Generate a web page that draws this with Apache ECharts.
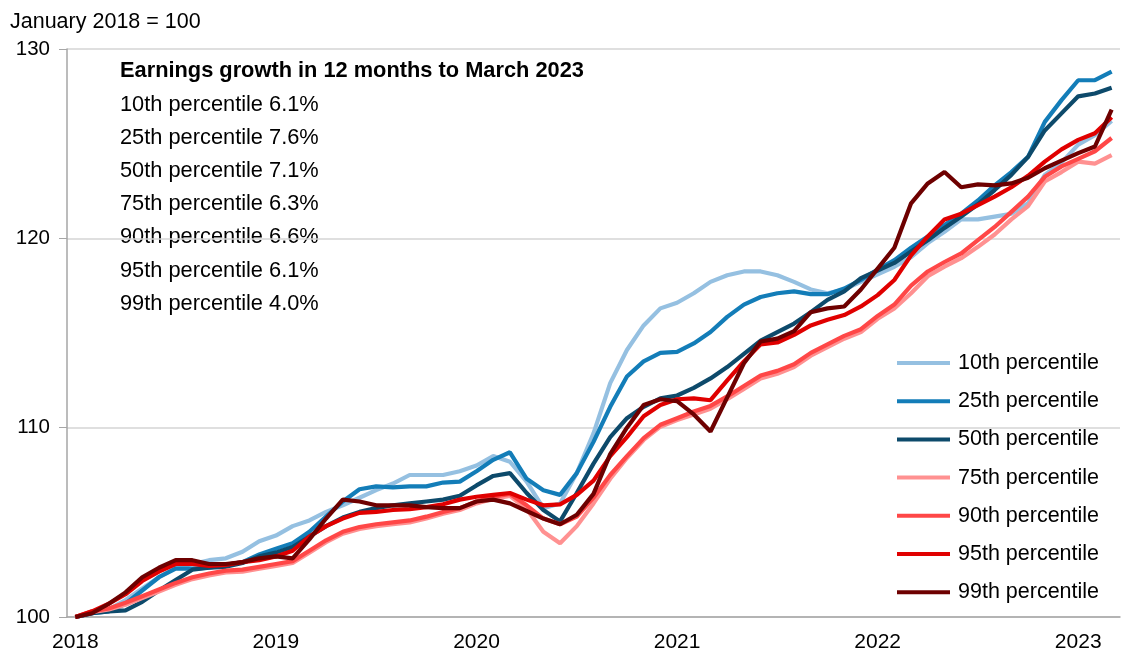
<!DOCTYPE html>
<html>
<head>
<meta charset="utf-8">
<script src="https://cdn.jsdelivr.net/npm/echarts@6/dist/echarts.min.js"></script>
<style>
  html, body { margin: 0; padding: 0; background: #fff; }
  #chart { width: 1126px; height: 657px; }
</style>
</head>
<body>
<div id="chart"></div>
<script>
// monthly, Jan 2018 to Mar 2023
const months = [
  '2018-01','2018-02','2018-03','2018-04','2018-05','2018-06','2018-07','2018-08','2018-09','2018-10','2018-11','2018-12',
  '2019-01','2019-02','2019-03','2019-04','2019-05','2019-06','2019-07','2019-08','2019-09','2019-10','2019-11','2019-12',
  '2020-01','2020-02','2020-03','2020-04','2020-05','2020-06','2020-07','2020-08','2020-09','2020-10','2020-11','2020-12',
  '2021-01','2021-02','2021-03','2021-04','2021-05','2021-06','2021-07','2021-08','2021-09','2021-10','2021-11','2021-12',
  '2022-01','2022-02','2022-03','2022-04','2022-05','2022-06','2022-07','2022-08','2022-09','2022-10','2022-11','2022-12',
  '2023-01','2023-02','2023-03'
]

const p10 = [100,100.2,100.4,100.9,101.5,102.1,102.6,102.8,103.0,103.1,
  103.45,104.0,104.3,104.8,105.1,105.55,105.9,106.3,106.7,107.05,
  107.5,107.5,107.5,107.7,108.0,108.5,108.2,107.15,105.75,106.0,
  107.6,109.7,112.35,114.1,115.4,116.3,116.6,117.1,117.7,118.05,
  118.25,118.25,118.05,117.7,117.3,117.1,117.3,117.7,118.1,118.5,
  119.0,119.75,120.35,121.0,121.0,121.15,121.3,121.85,123.35,124.0,
  124.95,125.45,126.2]
const p25 = [100,100.2,100.3,100.7,101.4,102.1,102.55,102.55,102.6,102.75,
  102.9,103.3,103.6,103.9,104.5,105.3,106.1,106.75,106.9,106.85,
  106.9,106.9,107.1,107.15,107.7,108.3,108.7,107.3,106.7,106.45,
  107.6,109.25,111.1,112.7,113.5,113.95,114.0,114.45,115.05,115.85,
  116.5,116.9,117.1,117.2,117.05,117.05,117.35,117.8,118.35,118.85,
  119.5,120.1,120.7,121.3,122.0,122.8,123.5,124.3,126.15,127.3,
  128.35,128.35,128.8]
const p50 = [100,100.2,100.3,100.35,100.8,101.4,101.95,102.5,102.6,102.65,
  102.85,103.2,103.4,103.7,104.25,104.8,105.25,105.55,105.75,105.9,
  106.0,106.1,106.2,106.4,106.95,107.45,107.6,106.55,105.65,105.05,
  106.55,108.1,109.5,110.5,111.1,111.55,111.7,112.1,112.6,113.2,
  113.9,114.6,115.05,115.5,116.1,116.75,117.2,117.9,118.3,118.7,
  119.3,119.9,120.55,121.15,121.8,122.55,123.35,124.3,125.7,126.6,
  127.5,127.65,127.95]
const p75 = [100,100.25,100.4,100.65,101.0,101.35,101.7,102.0,102.2,102.35,
  102.4,102.55,102.7,102.85,103.4,103.95,104.4,104.65,104.8,104.9,
  105.0,105.2,105.45,105.65,106.0,106.25,106.4,105.7,104.5,103.9,
  104.8,106.0,107.3,108.4,109.35,110.05,110.4,110.7,111.0,111.5,
  112.05,112.6,112.85,113.2,113.8,114.25,114.7,115.05,115.75,116.3,
  117.1,118.0,118.5,118.95,119.55,120.2,121.0,121.7,123.0,123.5,
  124.05,123.95,124.4]
const p90 = [100,100.3,100.45,100.75,101.1,101.45,101.8,102.1,102.3,102.45,
  102.5,102.65,102.8,102.95,103.5,104.05,104.5,104.75,104.9,105.0,
  105.1,105.3,105.55,105.75,106.1,106.35,106.5,105.9,105.2,104.9,
  105.3,106.3,107.5,108.5,109.45,110.15,110.5,110.85,111.15,111.65,
  112.2,112.75,113.0,113.35,113.95,114.4,114.85,115.2,115.9,116.5,
  117.5,118.25,118.75,119.2,119.9,120.6,121.4,122.2,123.25,123.8,
  124.2,124.6,125.3]
const p95 = [100,100.3,100.7,101.2,101.9,102.4,102.8,102.8,102.7,102.75,
  102.9,103.0,103.2,103.5,104.25,104.8,105.2,105.5,105.55,105.65,
  105.7,105.8,105.95,106.2,106.35,106.45,106.55,106.2,105.9,105.95,
  106.45,107.2,108.5,109.5,110.6,111.2,111.5,111.55,111.45,112.5,
  113.5,114.4,114.5,114.9,115.4,115.7,115.95,116.4,117.0,117.8,
  119.1,120.1,121.0,121.3,121.75,122.2,122.7,123.3,124.05,124.7,
  125.2,125.55,126.4]
const p99 = [100,100.2,100.7,101.3,102.1,102.6,103.0,103.0,102.8,102.8,
  102.9,103.1,103.2,103.1,104.1,105.2,106.2,106.1,105.9,105.9,
  105.9,105.8,105.75,105.75,106.1,106.2,106.0,105.6,105.2,104.9,
  105.4,106.5,108.6,110.0,111.2,111.5,111.4,110.7,109.8,111.6,
  113.4,114.55,114.7,115.1,116.1,116.3,116.4,117.3,118.4,119.5,
  121.85,122.9,123.5,122.7,122.85,122.8,122.9,123.2,123.7,124.1,
  124.5,124.85,126.8]

const seriesNames = ['10th percentile', '25th percentile', '50th percentile', '75th percentile',
  '90th percentile', '95th percentile', '99th percentile']
const seriesData = [p10, p25, p50, p75, p90, p95, p99]
const colors = ['#95c0e1', '#137db8', '#0d4a6b', '#ff9191', '#ff4747', '#e00000', '#6e0000']

const noteTitle = 'Earnings growth in 12 months to March 2023'
const notes = ['10th percentile 6.1%', '25th percentile 7.6%', '50th percentile 7.1%',
  '75th percentile 6.3%', '90th percentile 6.6%', '95th percentile 6.1%', '99th percentile 4.0%']

const font = '"Liberation Sans", Arial, sans-serif'

// annotation block, top left of the plot
const noteGraphics = [{
  type: 'text', left: 120, top: 60,
  style: { text: noteTitle, font: 'bold 21.8px ' + font, fill: '#000' }
}].concat(notes.map((t, i) => ({
  type: 'text', left: 120, top: 93.5 + i * 33.2,
  style: { text: t, font: '21.8px ' + font, fill: '#000' }
})))

const chart = echarts.init(document.getElementById('chart'))
chart.setOption({
  animation: false,
  textStyle: { fontFamily: font },
  title: {
    text: 'January 2018 = 100', left: 5, top: 6,
    textStyle: { fontSize: 21.5, fontWeight: 'normal', color: '#000', fontFamily: font }
  },
  grid: { left: 67, right: 6, top: 49, bottom: 40 },
  legend: {
    orient: 'vertical', left: 892, top: 347,
    icon: 'rect', itemWidth: 53, itemHeight: 4, itemGap: 16.2,
    textStyle: { fontSize: 21.5, color: '#000', lineHeight: 22, padding: [0, 0, 0, 3] },
    data: seriesNames
  },
  graphic: noteGraphics,
  xAxis: {
    type: 'category', data: months, boundaryGap: true,
    axisLine: { lineStyle: { color: '#a6a6a6', width: 1.5 } },
    axisTick: { interval: 0, length: 6, lineStyle: { color: '#a6a6a6' } },
    axisLabel: {
      interval: (i) => i % 12 === 0, margin: 15,
      fontSize: 21, color: '#000',
      formatter: (v) => v.slice(0, 4)
    }
  },
  yAxis: {
    type: 'value', min: 100, max: 130, interval: 10,
    axisLine: { show: true, lineStyle: { color: '#a6a6a6', width: 1.5 } },
    axisTick: { show: true, length: 8, lineStyle: { color: '#a6a6a6' } },
    axisLabel: { fontSize: 20.5, color: '#000', margin: 17 },
    splitLine: { lineStyle: { color: '#d4d4d4', width: 1.5 } }
  },
  series: seriesNames.map((name, i) => ({
    name, type: 'line', data: seriesData[i],
    showSymbol: false, symbol: 'none',
    lineStyle: { width: 4.2, color: colors[i] },
    itemStyle: { color: colors[i] }
  }))
})
</script>
</body>
</html>
